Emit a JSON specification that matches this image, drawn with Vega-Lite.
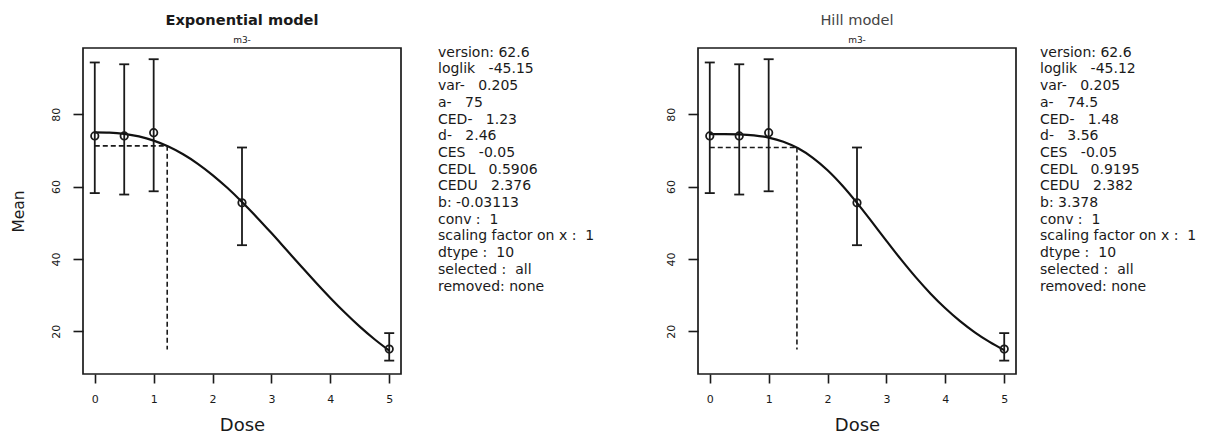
{
  "$schema": "https://vega.github.io/schema/vega-lite/v6.json",
  "autosize": {"type": "pad"},
  "padding": {"left": 10, "top": 12, "right": 0, "bottom": 0},
  "bounds": "flush",
  "spacing": 0,
  "background": "white",
  "config": {
    "font": "DejaVu Sans",
    "view": {"stroke": "#1a1a1a", "strokeWidth": 1.7},
    "axis": {
      "domain": false, "grid": false, "tickColor": "#1a1a1a", "tickWidth": 1.6,
      "labelColor": "#1a1a1a", "titleColor": "#1a1a1a", "labelFontSize": 11,
      "titleFontWeight": "normal", "labelFont": "DejaVu Sans", "titleFont": "DejaVu Sans",
      "labelFlush": false, "labelOverlap": false
    },
    "axisX": {"tickSize": 9, "labelPadding": 10, "titleFontSize": 18, "titlePadding": 12.5},
    "axisY": {"tickSize": 10, "labelPadding": 12, "labelAngle": 270, "titleFontSize": 15.5, "titlePadding": 24},
    "title": {"fontSize": 14.6, "subtitleFontSize": 9, "anchor": "middle", "offset": 3, "subtitlePadding": 8,
      "color": "#1a1a1a", "subtitleColor": "#1a1a1a", "font": "DejaVu Sans", "subtitleFont": "DejaVu Sans"}
  },
  "datasets": {
    "obs": [
      {"dose": 0, "mean": 74.0, "lo": 58.2, "hi": 94.3},
      {"dose": 0.5, "mean": 74.0, "lo": 57.8, "hi": 93.8},
      {"dose": 1, "mean": 74.9, "lo": 58.7, "hi": 95.2},
      {"dose": 2.5, "mean": 55.5, "lo": 43.8, "hi": 70.8},
      {"dose": 5, "mean": 15.1, "lo": 11.9, "hi": 19.5}
    ],
    "expcurve": [
      {"x": 0, "y": 75.0}, {"x": 0.25, "y": 74.92}, {"x": 0.5, "y": 74.58}, {"x": 0.75, "y": 73.86},
      {"x": 1.0, "y": 72.70}, {"x": 1.25, "y": 71.06}, {"x": 1.5, "y": 68.93}, {"x": 1.75, "y": 66.30},
      {"x": 2.0, "y": 63.19}, {"x": 2.25, "y": 59.66}, {"x": 2.5, "y": 55.75}, {"x": 2.75, "y": 51.55},
      {"x": 3.0, "y": 47.14}, {"x": 3.25, "y": 42.60}, {"x": 3.5, "y": 38.05}, {"x": 3.75, "y": 33.56},
      {"x": 4.0, "y": 29.22}, {"x": 4.25, "y": 25.12}, {"x": 4.5, "y": 21.29}, {"x": 4.75, "y": 17.80},
      {"x": 5.0, "y": 14.67}
    ],
    "hillcurve": [
      {"x": 0, "y": 74.5}, {"x": 0.25, "y": 74.49}, {"x": 0.5, "y": 74.42}, {"x": 0.75, "y": 74.15},
      {"x": 1.0, "y": 73.54}, {"x": 1.25, "y": 72.40}, {"x": 1.5, "y": 70.58}, {"x": 1.75, "y": 67.96},
      {"x": 2.0, "y": 64.52}, {"x": 2.25, "y": 60.31}, {"x": 2.5, "y": 55.50}, {"x": 2.75, "y": 50.31},
      {"x": 3.0, "y": 45.01}, {"x": 3.25, "y": 39.80}, {"x": 3.5, "y": 34.90}, {"x": 3.75, "y": 30.40},
      {"x": 4.0, "y": 26.37}, {"x": 4.25, "y": 22.82}, {"x": 4.5, "y": 19.73}, {"x": 4.75, "y": 17.07},
      {"x": 5.0, "y": 14.79}
    ],
    "ced1": [
      {"x0": 0, "x1": 1.23, "y0": 71.25, "y1": 71.25},
      {"x0": 1.23, "x1": 1.23, "y0": 71.25, "y1": 15.0}
    ],
    "ced2": [
      {"x0": 0, "x1": 1.48, "y0": 70.78, "y1": 70.78},
      {"x0": 1.48, "x1": 1.48, "y0": 70.78, "y1": 15.0}
    ],
    "stats1": [
      {"i": 0, "col": 0, "t": "version: 62.6"},
      {"i": 1, "col": 0, "t": "loglik\u00a0\u00a0\u00a0-45.15"},
      {"i": 2, "col": 0, "t": "var-\u00a0\u00a0\u00a00.205"},
      {"i": 3, "col": 0, "t": "a-\u00a0\u00a0\u00a075"},
      {"i": 4, "col": 0, "t": "CED-\u00a0\u00a0\u00a01.23"},
      {"i": 5, "col": 0, "t": "d-\u00a0\u00a0\u00a02.46"},
      {"i": 6, "col": 0, "t": "CES\u00a0\u00a0\u00a0-0.05"},
      {"i": 7, "col": 0, "t": "CEDL\u00a0\u00a0\u00a00.5906"},
      {"i": 8, "col": 0, "t": "CEDU\u00a0\u00a0\u00a02.376"},
      {"i": 9, "col": 0, "t": "b: -0.03113"},
      {"i": 10, "col": 0, "t": "conv :\u00a0\u00a01"},
      {"i": 11, "col": 0, "t": "scaling factor on x :\u00a0\u00a01"},
      {"i": 12, "col": 0, "t": "dtype :\u00a0\u00a010"},
      {"i": 13, "col": 0, "t": "\u00a0selected :\u00a0\u00a0all"},
      {"i": 14, "col": 0, "t": "removed: none"}
    ],
    "stats2": [
      {"i": 0, "col": 0, "t": "version: 62.6"},
      {"i": 1, "col": 0, "t": "loglik\u00a0\u00a0\u00a0-45.12"},
      {"i": 2, "col": 0, "t": "var-\u00a0\u00a0\u00a00.205"},
      {"i": 3, "col": 0, "t": "a-\u00a0\u00a0\u00a074.5"},
      {"i": 4, "col": 0, "t": "CED-\u00a0\u00a0\u00a01.48"},
      {"i": 5, "col": 0, "t": "d-\u00a0\u00a0\u00a03.56"},
      {"i": 6, "col": 0, "t": "CES\u00a0\u00a0\u00a0-0.05"},
      {"i": 7, "col": 0, "t": "CEDL\u00a0\u00a0\u00a00.9195"},
      {"i": 8, "col": 0, "t": "CEDU\u00a0\u00a0\u00a02.382"},
      {"i": 9, "col": 0, "t": "b: 3.378"},
      {"i": 10, "col": 0, "t": "conv :\u00a0\u00a01"},
      {"i": 11, "col": 0, "t": "scaling factor on x :\u00a0\u00a01"},
      {"i": 12, "col": 0, "t": "dtype :\u00a0\u00a010"},
      {"i": 13, "col": 0, "t": "\u00a0selected :\u00a0\u00a0all"},
      {"i": 14, "col": 0, "t": "removed: none"}
    ]
  },
  "hconcat": [
    {
      "width": 318, "height": 326,
      "title": {"text": "Exponential model", "subtitle": "m3-", "fontWeight": "bold"},
      "encoding": {
        "x": {"type": "quantitative", "scale": {"domain": [-0.2, 5.2], "nice": false, "zero": false},
          "axis": {"values": [0, 1, 2, 3, 4, 5], "format": "d", "title": "Dose"}}
      },
      "layer": [
        {"data": {"name": "obs"}, "mark": {"type": "rule", "strokeWidth": 1.8, "color": "#1a1a1a"},
          "encoding": {"x": {"field": "dose", "type": "quantitative"},
            "y": {"field": "lo", "type": "quantitative", "scale": {"domain": [8.2, 98.3], "nice": false, "zero": false},
              "axis": {"values": [20, 40, 60, 80], "title": "Mean"}},
            "y2": {"field": "hi"}}},
        {"data": {"name": "obs"}, "mark": {"type": "tick", "orient": "horizontal", "size": 10, "thickness": 1.8, "color": "#1a1a1a", "opacity": 1},
          "encoding": {"x": {"field": "dose", "type": "quantitative"}, "y": {"field": "lo", "type": "quantitative"}}},
        {"data": {"name": "obs"}, "mark": {"type": "tick", "orient": "horizontal", "size": 10, "thickness": 1.8, "color": "#1a1a1a", "opacity": 1},
          "encoding": {"x": {"field": "dose", "type": "quantitative"}, "y": {"field": "hi", "type": "quantitative"}}},
        {"data": {"name": "expcurve"}, "mark": {"type": "line", "color": "#111111", "strokeWidth": 2.2, "interpolate": "monotone"},
          "encoding": {"x": {"field": "x", "type": "quantitative"}, "y": {"field": "y", "type": "quantitative"}}},
        {"data": {"name": "ced1"}, "mark": {"type": "rule", "color": "#1a1a1a", "strokeWidth": 1.6, "strokeDash": [5, 3]},
          "encoding": {"x": {"field": "x0", "type": "quantitative"}, "x2": {"field": "x1"},
            "y": {"field": "y0", "type": "quantitative"}, "y2": {"field": "y1"}}},
        {"data": {"name": "obs"}, "mark": {"type": "point", "filled": false, "size": 55, "strokeWidth": 1.8, "color": "#1a1a1a", "opacity": 1},
          "encoding": {"x": {"field": "dose", "type": "quantitative"}, "y": {"field": "mean", "type": "quantitative"}}}
      ]
    },
    {
      "width": 297, "height": 326, "view": {"stroke": null},
      "data": {"name": "stats1"},
      "mark": {"type": "text", "align": "left", "baseline": "middle", "fontSize": 14, "color": "#1a1a1a", "font": "DejaVu Sans"},
      "encoding": {
        "x": {"field": "col", "type": "quantitative", "scale": {"domain": [0, 1], "range": [37, 297]}, "axis": null},
        "y": {"field": "i", "type": "quantitative", "scale": {"domain": [0, 14], "range": [4.7, 238.5]}, "axis": null},
        "text": {"field": "t"}
      }
    },
    {
      "width": 318, "height": 326,
      "title": {"text": "Hill model", "subtitle": "m3-", "fontWeight": "normal", "color": "#444444"},
      "encoding": {
        "x": {"type": "quantitative", "scale": {"domain": [-0.2, 5.2], "nice": false, "zero": false},
          "axis": {"values": [0, 1, 2, 3, 4, 5], "format": "d", "title": "Dose"}}
      },
      "layer": [
        {"data": {"name": "obs"}, "mark": {"type": "rule", "strokeWidth": 1.8, "color": "#1a1a1a"},
          "encoding": {"x": {"field": "dose", "type": "quantitative"},
            "y": {"field": "lo", "type": "quantitative", "scale": {"domain": [8.2, 98.3], "nice": false, "zero": false},
              "axis": {"values": [20, 40, 60, 80], "title": null}},
            "y2": {"field": "hi"}}},
        {"data": {"name": "obs"}, "mark": {"type": "tick", "orient": "horizontal", "size": 10, "thickness": 1.8, "color": "#1a1a1a", "opacity": 1},
          "encoding": {"x": {"field": "dose", "type": "quantitative"}, "y": {"field": "lo", "type": "quantitative"}}},
        {"data": {"name": "obs"}, "mark": {"type": "tick", "orient": "horizontal", "size": 10, "thickness": 1.8, "color": "#1a1a1a", "opacity": 1},
          "encoding": {"x": {"field": "dose", "type": "quantitative"}, "y": {"field": "hi", "type": "quantitative"}}},
        {"data": {"name": "hillcurve"}, "mark": {"type": "line", "color": "#111111", "strokeWidth": 2.2, "interpolate": "monotone"},
          "encoding": {"x": {"field": "x", "type": "quantitative"}, "y": {"field": "y", "type": "quantitative"}}},
        {"data": {"name": "ced2"}, "mark": {"type": "rule", "color": "#1a1a1a", "strokeWidth": 1.6, "strokeDash": [5, 3]},
          "encoding": {"x": {"field": "x0", "type": "quantitative"}, "x2": {"field": "x1"},
            "y": {"field": "y0", "type": "quantitative"}, "y2": {"field": "y1"}}},
        {"data": {"name": "obs"}, "mark": {"type": "point", "filled": false, "size": 55, "strokeWidth": 1.8, "color": "#1a1a1a", "opacity": 1},
          "encoding": {"x": {"field": "dose", "type": "quantitative"}, "y": {"field": "mean", "type": "quantitative"}}}
      ]
    },
    {
      "width": 200, "height": 326, "view": {"stroke": null},
      "data": {"name": "stats2"},
      "mark": {"type": "text", "align": "left", "baseline": "middle", "fontSize": 14, "color": "#1a1a1a", "font": "DejaVu Sans"},
      "encoding": {
        "x": {"field": "col", "type": "quantitative", "scale": {"domain": [0, 1], "range": [24, 200]}, "axis": null},
        "y": {"field": "i", "type": "quantitative", "scale": {"domain": [0, 14], "range": [4.7, 238.5]}, "axis": null},
        "text": {"field": "t"}
      }
    }
  ]
}
